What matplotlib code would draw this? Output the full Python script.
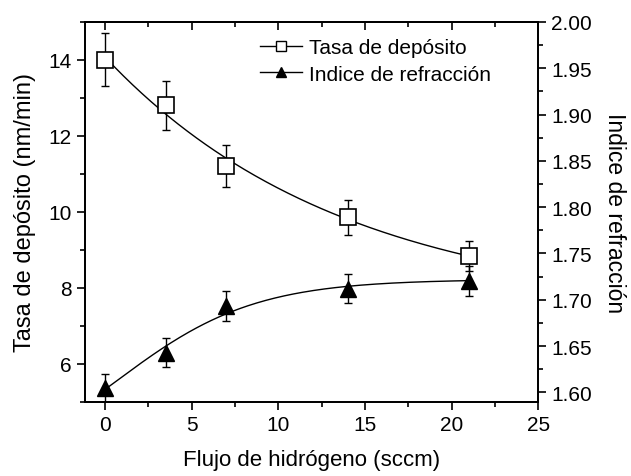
import numpy as np
import matplotlib.pyplot as plt
from matplotlib.lines import Line2D
from matplotlib.ticker import MultipleLocator

plt.rcParams["font.family"] = ["Liberation Sans", "DejaVu Sans"]

# flujo de hidrogeno (sccm)
flujo = [0, 3.5, 7, 14, 21]

# tasa de deposito (nm/min) y su error
tasa = [14.0, 12.8, 11.2, 9.85, 8.83]
tasa_err = [0.7, 0.65, 0.55, 0.45, 0.4]

# indice de refraccion y su error
indice = [1.605, 1.643, 1.693, 1.712, 1.720]
indice_err = [0.015, 0.016, 0.016, 0.016, 0.016]


def exp_fit(x, y):
    # y = y0 + A*exp(-x/t), busqueda de t y minimos cuadrados para y0, A
    x = np.asarray(x, float)
    y = np.asarray(y, float)
    best = None
    for t in np.linspace(0.5, 80, 2000):
        M = np.column_stack([np.ones_like(x), np.exp(-x / t)])
        coef, *_ = np.linalg.lstsq(M, y, rcond=None)
        r = np.sum((M @ coef - y) ** 2)
        if best is None or r < best[0]:
            best = (r, t, coef)
    _, t, (y0, a) = best
    return lambda xx: y0 + a * np.exp(-xx / t)


def boltzmann_fit(x, y, dx_min=4.0):
    # y = A2 + (A1 - A2) / (1 + exp((x - x0)/dx)), con ancho minimo
    x = np.asarray(x, float)
    y = np.asarray(y, float)
    best = None
    for x0 in np.linspace(-6, 10, 161):
        for dx in np.linspace(dx_min, 12, 81):
            s = 1.0 / (1.0 + np.exp((x - x0) / dx))
            M = np.column_stack([np.ones_like(x), s])
            coef, *_ = np.linalg.lstsq(M, y, rcond=None)
            r = np.sum((M @ coef - y) ** 2)
            if best is None or r < best[0]:
                best = (r, x0, dx, coef)
    _, x0, dx, (a2, d) = best
    return lambda xx: a2 + d / (1.0 + np.exp((xx - x0) / dx))


fig = plt.figure(figsize=(6.31, 4.77), dpi=100)
ax = fig.add_axes([0.135, 0.156, 0.718, 0.796])
ax2 = ax.twinx()

xs = np.linspace(0, 21, 200)
f1 = exp_fit(flujo, tasa)
f2 = boltzmann_fit(flujo, indice)

ax.plot(xs, f1(xs), color="black", lw=1, zorder=2)
ax.errorbar(flujo, tasa, yerr=tasa_err, fmt="none", ecolor="black",
            elinewidth=1, capsize=3, capthick=1, zorder=2)
ax.plot(flujo, tasa, ls="none", marker="s", ms=11, mfc="white",
        mec="black", mew=1.2, zorder=3)

ax2.plot(xs, f2(xs), color="black", lw=1, zorder=2)
ax2.errorbar(flujo, indice, yerr=indice_err, fmt="none", ecolor="black",
             elinewidth=1, capsize=3, capthick=1, zorder=2)
ax2.plot(flujo, indice, ls="none", marker="^", ms=12, mfc="black",
         mec="black", zorder=3)

ax.set_xlim(-1.15, 25)
ax.set_ylim(5, 15)
ax2.set_ylim(1.59, 2.0)

ax.xaxis.set_major_locator(MultipleLocator(5))
ax.xaxis.set_minor_locator(MultipleLocator(2.5))
ax.yaxis.set_major_locator(MultipleLocator(2))
ax.yaxis.set_minor_locator(MultipleLocator(1))
ax2.yaxis.set_major_locator(MultipleLocator(0.05))
ax2.yaxis.set_minor_locator(MultipleLocator(0.025))
ax2.yaxis.set_major_formatter(plt.FormatStrFormatter("%.2f"))

ax.tick_params(axis="x", which="both", top=False, direction="out")
ax.tick_params(axis="y", which="both", direction="out", right=False)
ax.tick_params(which="major", length=6, width=1.2, labelsize=15)
ax.tick_params(which="minor", length=3.5, width=1.2)
ax2.tick_params(which="major", direction="out", length=6, width=1.2, labelsize=15)
ax2.tick_params(which="minor", direction="out", length=3.5, width=1.2)

# ticks del eje superior hacia dentro
top = ax.secondary_xaxis("top")
top.xaxis.set_major_locator(MultipleLocator(5))
top.xaxis.set_minor_locator(MultipleLocator(2.5))
top.tick_params(which="major", direction="in", length=6, width=1.2, labeltop=False)
top.tick_params(which="minor", direction="in", length=3.5, width=1.2)
top.spines["top"].set_linewidth(1.3)

for a in (ax, ax2):
    for s in a.spines.values():
        s.set_linewidth(1.3)

ax.set_xlabel("Flujo de hidrógeno (sccm)", fontsize=16, labelpad=11)
ax.set_ylabel("Tasa de depósito (nm/min)", fontsize=17, labelpad=9)
ax2.set_ylabel("Indice de refracción", fontsize=16.5, rotation=270, labelpad=24)

handles = [
    Line2D([], [], color="black", lw=1, marker="s", ms=7, mfc="white", mec="black"),
    Line2D([], [], color="black", lw=1, marker="^", ms=7, mfc="black", mec="black"),
]
ax2.legend(handles, ["Tasa de depósito", "Indice de refracción"],
           loc="upper left", bbox_to_anchor=(0.386, 0.957), frameon=False,
           fontsize=15, borderpad=0, borderaxespad=0, handlelength=2.0,
           handletextpad=0.35, labelspacing=0.35)

fig.savefig("out.png", dpi=100)
